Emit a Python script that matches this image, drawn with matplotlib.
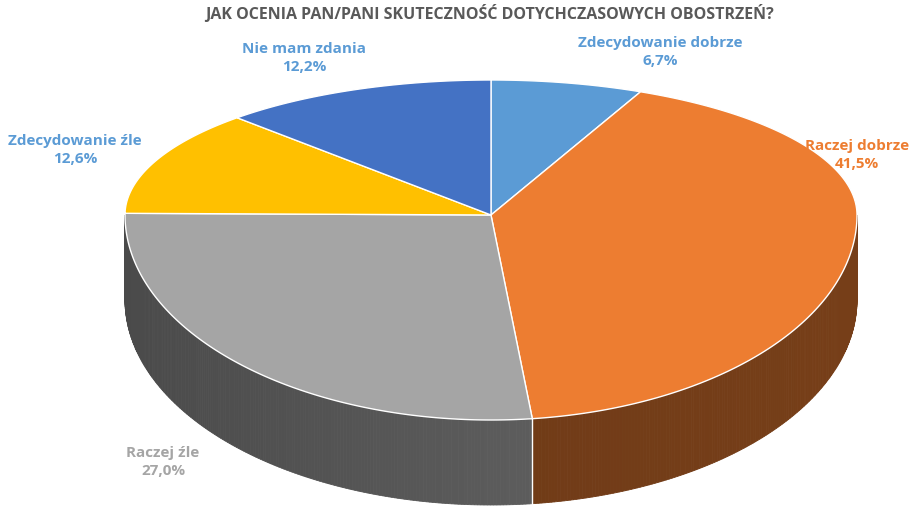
import numpy as np
import matplotlib.pyplot as plt
from matplotlib.colors import to_rgb

plt.rcParams['font.family'] = ['Open Sans', 'DejaVu Sans']

title = "JAK OCENIA PAN/PANI SKUTECZNOŚĆ DOTYCHCZASOWYCH OBOSTRZEŃ?"
labels = ["Zdecydowanie dobrze", "Raczej dobrze", "Raczej źle", "Zdecydowanie źle", "Nie mam zdania"]
values = [6.7, 41.5, 27.0, 12.6, 12.2]
colors = ["#5B9BD5", "#ED7D31", "#A5A5A5", "#FFC000", "#4472C4"]
label_colors = ["#5B9BD5", "#ED7D31", "#A5A5A5", "#5B9BD5", "#5B9BD5"]
label_pos = [(660, 52), (857, 155), (163, 462), (75, 150), (304, 58)]

# geometry in pixel space
cx, cy = 491, 215
rx, ry_up, ry_down = 366, 135, 205
depth = 85


def pt(theta):
    # theta in degrees, math convention, y grows downward in pixel coords
    t = np.radians(theta)
    s = np.sin(t)
    ry = ry_up if s > 0 else ry_down
    return cx + rx * np.cos(t), cy - ry * s


def shade(color, f):
    return tuple(c * f for c in to_rgb(color))


fig = plt.figure(figsize=(9.15, 5.14), dpi=100)
ax = fig.add_axes([0, 0, 1, 1])
ax.set_xlim(0, 915)
ax.set_ylim(514, 0)
ax.axis('off')

# slice angle ranges, clockwise from top
bounds = []
start = 90.0
for v in values:
    end = start - v / sum(values) * 360
    bounds.append((end, start))
    start = end

# side walls (front half: angles 180..360)
for (a0, a1), col in zip(bounds, colors):
    for off in (0, 360, -360):
        lo, hi = max(a0 + off, 180), min(a1 + off, 360)
        if lo >= hi:
            continue
        steps = np.linspace(lo, hi, max(2, int((hi - lo) * 2)))
        for t0, t1 in zip(steps[:-1], steps[1:]):
            x0, y0 = pt(t0)
            x1, y1 = pt(t1)
            # darker on the left, lighter towards the right
            f = 0.45 + 0.2 * (np.cos(np.radians((t0 + t1) / 2)) + 1) / 2
            if col == "#ED7D31":
                f = 0.45 + 0.05 * (np.cos(np.radians((t0 + t1) / 2)) + 1) / 2
            ax.fill([x0, x1, x1, x0], [y0, y1, y1 + depth, y0 + depth],
                    color=shade(col, f), lw=0.6, ec=shade(col, f))

# boundary edges on the side
for a in [b[0] for b in bounds]:
    a = a % 360
    if 180 < a < 360:
        x, y = pt(a)
        ax.plot([x, x], [y, y + depth], color="white", lw=1)

# top face
for (a0, a1), col in zip(bounds, colors):
    ts = np.linspace(a0, a1, 200)
    xs = [cx] + [pt(t)[0] for t in ts]
    ys = [cy] + [pt(t)[1] for t in ts]
    ax.fill(xs, ys, color=col, ec="white", lw=1)

ax.text(490, 14, title, ha='center', va='center', fontsize=11.5,
        fontweight='bold', color="#595959")
for lab, v, c, (x, y) in zip(labels, values, label_colors, label_pos):
    ax.text(x, y, f"{lab}\n{v:.1f}%".replace('.', ','), ha='center', va='center',
            fontsize=11, fontweight='bold', color=c, linespacing=1.4)

fig.savefig("out.png", dpi=100)
